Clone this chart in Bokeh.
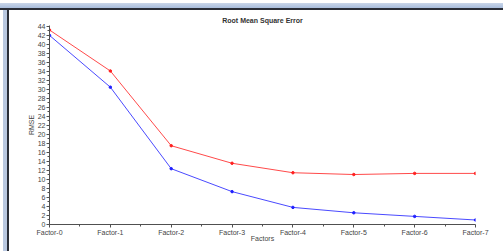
from bokeh.plotting import figure
from bokeh.models import FixedTicker, ColumnDataSource, Div
from bokeh.layouts import column, row
from bokeh.embed import file_html
from bokeh.resources import INLINE

categories = ["Factor-0", "Factor-1", "Factor-2", "Factor-3", "Factor-4", "Factor-5", "Factor-6", "Factor-7"]
red_series = [43.2, 34.1, 17.5, 13.6, 11.5, 11.1, 11.35, 11.35]
blue_series = [42.0, 30.5, 12.4, 7.3, 3.8, 2.6, 1.8, 1.0]
y_ticks = list(range(0, 45, 2))

xs = list(range(len(categories)))
src = ColumnDataSource(dict(x=xs, red=red_series, blue=blue_series))

FONT = "Liberation Sans"

p = figure(width=494, height=241, output_backend="svg", toolbar_location=None,
           x_range=(0, 7), y_range=(0, 44.2),
           min_border_left=40, min_border_right=28, min_border_top=15, min_border_bottom=27,
           background_fill_color="white", border_fill_color="white")
p.outline_line_color = None
p.grid.visible = False

p.title.text = "Root Mean Square Error"
p.title.align = "center"
p.title.vertical_align = "top"
p.title.text_font = FONT
p.title.text_font_size = "7px"
p.title.text_font_style = "bold"
p.title.text_color = "#333333"
p.title.standoff = 0

p.line("x", "red", source=src, line_color="#ff4a4a", line_width=1)
p.scatter("x", "red", source=src, size=2.5, color="#ff2020")
p.line("x", "blue", source=src, line_color="#4a4aff", line_width=1)
p.scatter("x", "blue", source=src, size=2.5, color="#2020ff")

xa = p.xaxis[0]
xa.ticker = FixedTicker(ticks=xs, minor_ticks=[i + 0.5 for i in xs[:-1]])
xa.major_label_overrides = {i: c for i, c in enumerate(categories)}
xa.axis_label = "Factors"

ya = p.yaxis[0]
ya.ticker = FixedTicker(ticks=y_ticks, minor_ticks=list(range(0, 45)))
ya.axis_label = "RMSE"

for ax in (xa, ya):
    ax.axis_line_color = "#505050"
    ax.major_tick_line_color = "#505050"
    ax.minor_tick_line_color = "#505050"
    ax.major_tick_out = 3
    ax.major_tick_in = 0
    ax.minor_tick_out = 2
    ax.minor_tick_in = 0
    ax.major_label_text_font = FONT
    ax.major_label_text_font_size = "7px"
    ax.major_label_text_color = "#444444"
    ax.axis_label_text_font = FONT
    ax.axis_label_text_font_size = "7px"
    ax.axis_label_text_font_style = "normal"
    ax.axis_label_text_color = "#444444"
    ax.major_label_standoff = 1

xa.axis_label_standoff = -4
ya.axis_label_standoff = 0

top_band = Div(text="", width=503, height=10, margin=0,
               styles={"background": "linear-gradient(to bottom, #ffffff 0px, #ffffff 3px, #c9d6ea 3px, #a9bddc 8px, #2a2e38 8px, #2a2e38 10px)"})
left_band = Div(text="", width=9, height=241, margin=0,
                styles={"background": "linear-gradient(to right, #ffffff 0px, #ffffff 3px, #b9c8e0 3px, #b9c8e0 7px, #2a2e38 7px, #2a2e38 9px)"})

layout = column(top_band, row(left_band, p, spacing=0), spacing=0)

open("out.html", "w").write(file_html(layout, INLINE))
